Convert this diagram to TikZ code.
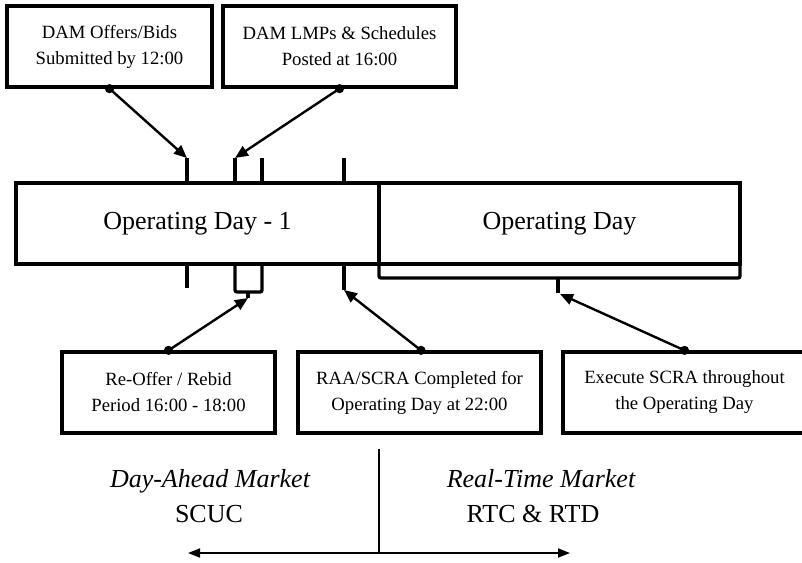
\documentclass[tikz,border=0pt]{standalone}
\usepackage{fontspec}
\setmainfont{Liberation Serif}
\usetikzlibrary{arrows.meta}
\begin{document}
\begin{tikzpicture}[x=1pt,y=-1pt,
  evbox/.style={draw, line width=3.3pt, inner sep=0pt, minimum height=81pt,
    align=center, font=\fontsize{18.7}{26}\selectfont},
  daybox/.style={draw, line width=3.3pt, inner sep=0pt, minimum height=81pt,
    font=\fontsize{26}{30}\selectfont},
  tickline/.style={line width=3.3pt},
  pointer/.style={line width=2.4pt, -{Triangle[length=13pt,width=11pt]}},
  label/.style={anchor=base, inner sep=0pt, font=\fontsize{26}{30}\selectfont},
  span/.style={line width=1.8pt, {Triangle[length=12pt,width=9pt]}-{Triangle[length=12pt,width=9pt]}}]
  \clip (0,0) rectangle (802,562);

  % event boxes above the timeline
  \node[evbox, minimum width=205pt] (offers) at (109.5,46.5) {DAM Offers/Bids\\Submitted by 12:00};
  \node[evbox, minimum width=233pt] (lmps) at (339.5,46.5) {DAM LMPs \& Schedules\\Posted at 16:00};

  % the two days
  \node[daybox, minimum width=363pt] (dayprev) at (197.5,223.5) {Operating Day - 1};
  \node[daybox, minimum width=361pt] (opday) at (559.5,223.5) {Operating Day};

  % event boxes below the timeline
  \node[evbox, minimum width=213pt] (reoffer) at (168.5,392.5) {Re-Offer / Rebid\\Period 16:00 - 18:00};
  \node[evbox, minimum width=243pt] (raa) at (419.5,392.5) {RAA/SCRA Completed for\\Operating Day at 22:00};
  \node[evbox, minimum width=243pt] (exec) at (684.5,392.5) {Execute SCRA throughout\\the Operating Day};

  % time marks on top of day - 1
  \coordinate (tA) at (187,158);
  \coordinate (tB) at (235,158);
  \coordinate (tC) at (262,158);
  \coordinate (tD) at (344,158);
  \foreach \t in {tA,tB,tC,tD} \draw[tickline] (\t) -- (\t |- dayprev.north);

  % time marks below day - 1
  \coordinate (bA) at (187,288);
  \coordinate (bD) at (344,290);
  \draw[tickline] (bA |- dayprev.south) -- (bA);
  \draw[tickline] (bD |- dayprev.south) -- (bD);
  \draw[tickline, rounded corners=2pt] (235,264) -- (235,292) -- (262,292) -- (262,264);
  \coordinate (bB) at (248,298);
  \draw[tickline] (248,292) -- (bB);

  % bracket spanning the operating day
  \draw[tickline, rounded corners=2pt] (379,264) -- (379,278) -- (740,278) -- (740,264);
  \coordinate (bE) at (560,294);
  \draw[tickline] (558,278) -- (558,293);

  % connectors
  \fill (offers.south) circle (4.6pt);
  \draw[pointer] (offers.south) -- (tA);
  \fill (lmps.south) circle (4.6pt);
  \draw[pointer] (lmps.south) -- (tB);
  \fill (reoffer.north) circle (4.6pt);
  \draw[pointer] (reoffer.north) -- (bB);
  \fill ([xshift=1.5pt]raa.north) circle (4.6pt);
  \draw[pointer] ([xshift=1.5pt]raa.north) -- (bD);
  \fill (exec.north) circle (4.6pt);
  \draw[pointer] (exec.north) -- (bE);

  % market labels
  \node[label, font=\fontsize{26}{30}\selectfont\itshape] (dam) at (210,487) {Day-Ahead Market};
  \node[label] (scuc) at (209,522) {SCUC};
  \node[label, font=\fontsize{26}{30}\selectfont\itshape] (rtm) at (541,487) {Real-Time Market};
  \node[label] (rtc) at (533,522) {RTC \& RTD};

  % divider and time axis
  \coordinate (divtop) at (379,449);
  \coordinate (mid) at (379,553);
  \coordinate (axl) at (188,553);
  \coordinate (axr) at (570,553);
  \draw[line width=1.1pt] (divtop) -- (mid);
  \draw[span] (axl) -- (axr);
\end{tikzpicture}
\end{document}
